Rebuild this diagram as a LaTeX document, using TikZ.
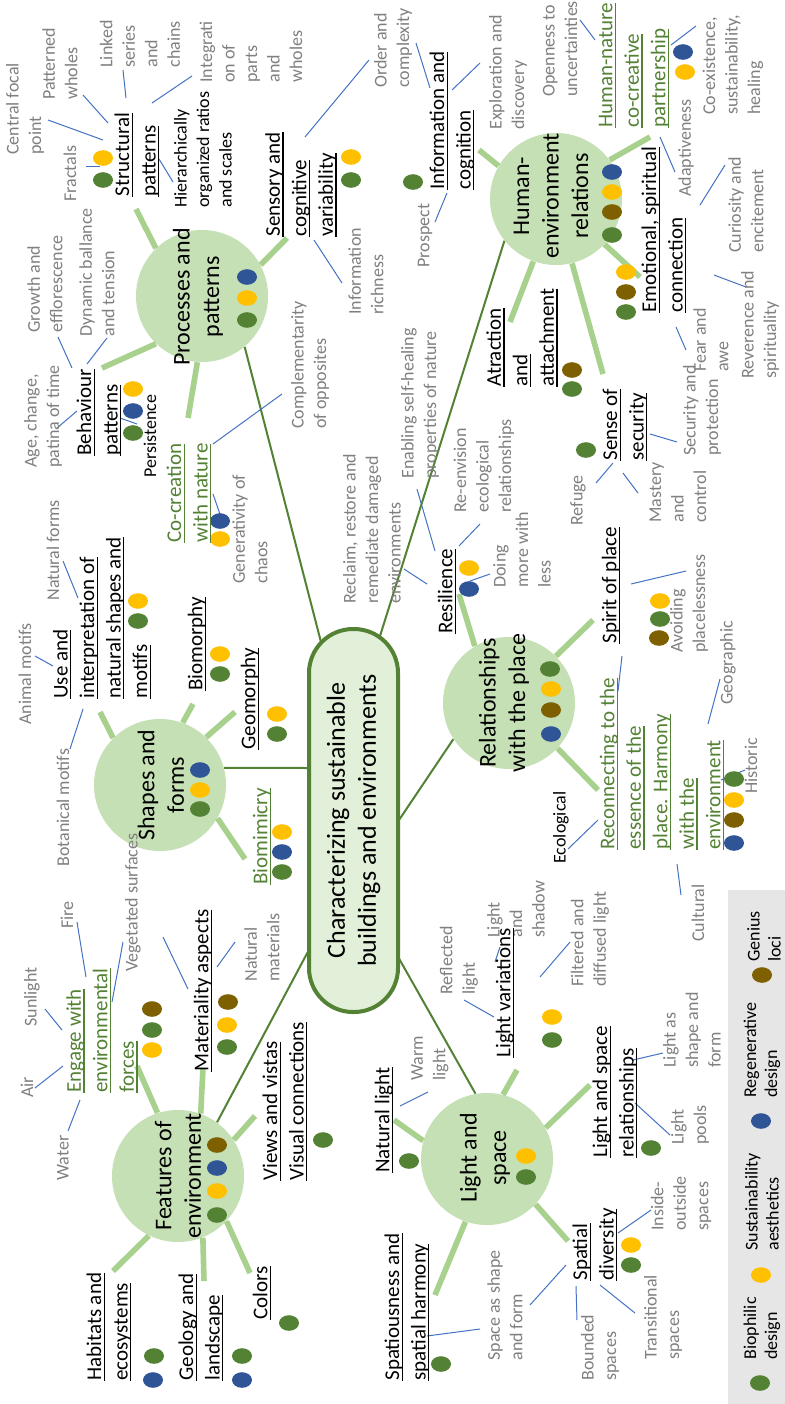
\documentclass[tikz,border=0pt]{standalone}
\usepackage{fontspec}
\setmainfont{Carlito}
\definecolor{dgreen}{HTML}{548235}
\definecolor{lgreen}{HTML}{A9D18E}
\definecolor{cfill}{HTML}{C5E0B4}
\definecolor{ctrfill}{HTML}{E2F0D9}
\definecolor{gtxt}{HTML}{808080}
\definecolor{lblue}{HTML}{4472C4}
\definecolor{Gd}{HTML}{548235}
\definecolor{Yd}{HTML}{FFC000}
\definecolor{Bd}{HTML}{2F5597}
\definecolor{Nd}{HTML}{7F6000}
\definecolor{legfill}{HTML}{E7E6E6}
\newcommand\uln[1]{\setbox0\hbox{#1}\rlap{\rule[-1.8pt]{\wd0}{0.6pt}}\box0}
\newcommand\mdot[3]{\fill[#1] (#2,#3) ellipse [x radius=5pt, y radius=3.9pt];}
\newcommand\bln[4]{\draw[bline] (#1,#2) -- (#3,#4);}
\tikzset{
 gl/.style={rotate=90, anchor=west, inner sep=0pt, align=left, text=gtxt, font=\fontsize{9}{11.25}\selectfont},
 sm/.style={gl, text=black},
 bl/.style={rotate=90, anchor=west, inner sep=0pt, align=left, text=black, font=\fontsize{10.5}{13.25}\selectfont},
 gnl/.style={bl, text=dgreen},
 circ/.style={circle, fill=cfill, minimum size=66pt, inner sep=0pt},
 ctx/.style={rotate=90, inner sep=0pt, align=center, font=\fontsize{12}{14.75}\selectfont},
 legt/.style={rotate=90, anchor=west, inner sep=0pt, align=left, font=\fontsize{9}{10.5}\selectfont},
 branch/.style={draw=lgreen, line width=2.8pt},
 trunk/.style={draw=dgreen, line width=1pt},
 bline/.style={draw=lblue, line width=0.5pt},
 ctrbox/.style={rotate=90, draw=dgreen, line width=2pt, fill=ctrfill, rounded corners=22pt, minimum width=191.5pt, minimum height=44.5pt, inner sep=0pt, align=center, font=\fontsize{13}{15.5}\selectfont}
}
\begin{document}
\begin{tikzpicture}[x=0.5pt,y=-0.5pt]
\useasboundingbox (0,0) rectangle (785,1404);
\fill[white] (0,0) rectangle (785,1404);
\fill[legfill] (728,890) rectangle (785,1404);
% circles
\node[circ] (pp) at (202,296) {};
\node[circ] (he) at (556,199) {};
\node[circ] (sf) at (160,785) {};
\node[circ] (fe) at (178,1176) {};
\node[circ] (ls) at (487,1159) {};
\node[circ] (rp) at (509,703) {};
% trunk ends on the central box
\coordinate (t-pp) at (322,646);
\coordinate (t-he) at (380,636);
\coordinate (t-sf) at (310,768);
\coordinate (t-fe) at (311,946);
\coordinate (t-ls) at (397,955);
\coordinate (t-rp) at (397,823);
\draw[trunk] (pp.-50.5) -- (t-pp);
\draw[trunk] (he.219) -- (t-he);
\draw[trunk] (sf.15) -- (t-sf);
\draw[trunk] (fe.54) -- (t-fe);
\draw[trunk] (ls.100) -- (t-ls);
\draw[trunk] (rp.213) -- (t-rp);
\node[ctrbox] (ctr) at (353.5,820.5) {Characterizing sustainable\\buildings and environments};
% branches
\draw[branch] (pp.134) -- (136,209) coordinate (e1);
\draw[branch] (pp.226) -- (102,368) coordinate (e2);
\draw[branch] (pp.266.6) -- (188,418) coordinate (e3);
\draw[branch] (pp.28.8) -- (287,238) coordinate (e4);
\draw[branch] (he.150.5) -- (479,150) coordinate (e5);
\draw[branch] (he.36.3) -- (650,137) coordinate (e6);
\draw[branch] (he.-43.2) -- (640,277) coordinate (e7);
\draw[branch] (he.-76) -- (603,374) coordinate (e8);
\draw[branch] (he.250.2) -- (510,322) coordinate (e9);
\draw[branch] (sf.135) -- (100,712) coordinate (e10);
\draw[branch] (sf.70.2) -- (193,704) coordinate (e11);
\draw[branch] (sf.46.8) -- (235,712) coordinate (e12);
\draw[branch] (sf.-30.8) -- (245,859) coordinate (e13);
\draw[branch] (fe.108.4) -- (137,1066) coordinate (e14);
\draw[branch] (fe.70.2) -- (203,1068) coordinate (e15);
\draw[branch] (fe.33) -- (255,1116) coordinate (e16);
\draw[branch] (fe.244.2) -- (113,1271) coordinate (e17);
\draw[branch] (fe.-68) -- (204,1281) coordinate (e18);
\draw[branch] (fe.-43.2) -- (250,1273) coordinate (e19);
\draw[branch] (ls.164) -- (394,1120) coordinate (e20);
\draw[branch] (ls.76.6) -- (517,1070) coordinate (e21);
\draw[branch] (ls.28.1) -- (590,1085) coordinate (e22);
\draw[branch] (ls.-43.8) -- (568,1241) coordinate (e23);
\draw[branch] (ls.-109) -- (435,1295) coordinate (e24);
\draw[branch] (rp.121.5) -- (459,594) coordinate (e25);
\draw[branch] (rp.45) -- (593,620) coordinate (e26);
\draw[branch] (rp.-43.8) -- (598,790) coordinate (e27);
% blue leader lines
\bln{48}{120}{103}{140}
\bln{83}{95}{108}{123}
\bln{123}{70}{126}{98}
\bln{192}{76}{152}{103}
\bln{86}{166}{100}{166}
\bln{159}{159}{173}{182}
\bln{58}{337}{72}{368}
\bln{107}{338}{87}{364}
\bln{57}{428}{77}{411}
\bln{120}{418}{137}{424}
\bln{213}{444}{282}{394}
\bln{213}{494}{222}{520}
\bln{63}{561}{78}{598}
\bln{35}{656}{53}{666}
\bln{70}{749}{83}{709}
\bln{77}{922}{86}{977}
\bln{45}{1009}{62}{1030}
\bln{123}{942}{112}{1002}
\bln{163}{937}{188}{989}
\bln{217}{967}{235}{942}
\bln{35}{1088}{63}{1066}
\bln{68}{1131}{80}{1100}
\bln{400}{1106}{428}{1092}
\bln{427}{1336}{480}{1329}
\bln{530}{1305}{566}{1265}
\bln{576}{1286}{577}{1320}
\bln{600}{1285}{635}{1313}
\bln{618}{1233}{651}{1210}
\bln{635}{1103}{670}{1135}
\bln{633}{1060}{663}{1053}
\bln{464}{1000}{494}{1017}
\bln{500}{947}{495}{962}
\bln{540}{977}{570}{942}
\bln{568}{849}{598}{820}
\bln{721}{780}{745}{770}
\bln{677}{864}{681}{895}
\bln{720}{679}{708}{724}
\bln{622}{656}{618}{691}
\bln{631}{584}{686}{571}
\bln{596}{483}{613}{463}
\bln{623}{473}{638}{493}
\bln{650}{434}{677}{442}
\bln{676}{327}{686}{350}
\bln{714}{275}{746}{287}
\bln{700}{205}{725}{165}
\bln{660}{137}{675}{172}
\bln{671}{45}{696}{26}
\bln{580}{20}{595}{40}
\bln{452}{90}{480}{63}
\bln{447}{193}{435}{222}
\bln{416}{43}{430}{88}
\bln{305}{137}{369}{60}
\bln{314}{240}{342}{283}
\bln{404}{569}{427}{584}
\bln{417}{489}{435}{551}
\bln{480}{524}{459}{546}
\bln{470}{581}{490}{574}
% circle texts
\node[ctx] (c1) at (198,297) {Processes and\\patterns};
\node[ctx] (c2) at (551,196) {Human-\\environment\\relations};
\node[ctx] (c3) at (161,785) {Shapes and\\forms};
\node[ctx] (c4) at (178,1176) {Features of\\environment};
\node[ctx] (c5) at (485,1158) {Light and\\space};
\node[ctx] (c6) at (504,703) {Relationships\\with the place};
% dots
\mdot{Yd}{103}{158} \mdot{Gd}{103}{180}
\mdot{Bd}{247}{277} \mdot{Yd}{247}{298} \mdot{Gd}{247}{320}
\mdot{Yd}{351}{157} \mdot{Gd}{351}{180}
\mdot{Gd}{413}{182}
\mdot{Yd}{133}{389} \mdot{Bd}{133}{411} \mdot{Gd}{133}{433}
\mdot{Bd}{220}{521} \mdot{Yd}{220}{539}
\mdot{Yd}{138}{601} \mdot{Gd}{138}{621}
\mdot{Yd}{220}{654} \mdot{Gd}{220}{674}
\mdot{Yd}{277}{714} \mdot{Gd}{277}{734}
\mdot{Bd}{200}{770} \mdot{Yd}{200}{790} \mdot{Gd}{200}{809}
\mdot{Yd}{282}{832} \mdot{Bd}{282}{852} \mdot{Gd}{282}{872}
\mdot{Nd}{228}{1002} \mdot{Yd}{227}{1025} \mdot{Gd}{227}{1047}
\mdot{Nd}{152}{1009} \mdot{Gd}{152}{1030} \mdot{Yd}{152}{1050}
\mdot{Nd}{217}{1145} \mdot{Bd}{217}{1168} \mdot{Yd}{217}{1191} \mdot{Gd}{217}{1215}
\mdot{Gd}{323}{1140}
\mdot{Gd}{154}{1356} \mdot{Bd}{153}{1380}
\mdot{Gd}{242}{1356} \mdot{Bd}{242}{1380}
\mdot{Gd}{289}{1323}
\mdot{Gd}{409}{1161}
\mdot{Gd}{441}{1364}
\mdot{Yd}{526}{1156} \mdot{Gd}{526}{1177}
\mdot{Yd}{631}{1245} \mdot{Gd}{631}{1265}
\mdot{Gd}{651}{1148}
\mdot{Yd}{552}{1017} \mdot{Gd}{552}{1040}
\mdot{Gd}{550}{669} \mdot{Yd}{551}{689} \mdot{Nd}{551}{710} \mdot{Bd}{551}{734}
\mdot{Gd}{734}{779} \mdot{Yd}{734}{800} \mdot{Nd}{734}{820} \mdot{Bd}{734}{843}
\mdot{Yd}{660}{601} \mdot{Gd}{660}{619} \mdot{Nd}{659}{638}
\mdot{Yd}{469}{568} \mdot{Bd}{469}{589}
\mdot{Gd}{586}{450}
\mdot{Nd}{572}{370} \mdot{Gd}{572}{389}
\mdot{Yd}{626}{272} \mdot{Nd}{626}{292} \mdot{Gd}{626}{312}
\mdot{Bd}{612}{172} \mdot{Yd}{612}{192} \mdot{Nd}{612}{212} \mdot{Gd}{612}{235}
\mdot{Bd}{683}{52} \mdot{Yd}{685}{72}
% legend
\mdot{Gd}{760}{1383} \node[legt] (lg1) at (762,1360) {Biophilic\\design};
\mdot{Yd}{761}{1275} \node[legt] (lg2) at (762,1251) {Sustainability\\aesthetics};
\mdot{Bd}{761}{1121} \node[legt] (lg3) at (762,1098) {Regenerative\\design};
\mdot{Nd}{762}{975} \node[legt] (lg4) at (764,962) {Genius\\loci};
% grey texts
\node[gl] (g1) at (25,155) {Central focal\\point};
\node[gl] (g2) at (60,100) {Patterned\\wholes};
\node[gl] (g3) at (140,68) {Linked\\series\\and\\chains};
\node[gl] (g4) at (251,83) {Integrati\\on of\\parts\\and\\wholes};
\node[gl] (g5) at (70,202) {Fractals};
\node[gl] (g6) at (45,333) {Growth and\\efflorescence};
\node[gl] (g7) at (97,337) {Dynamic ballance\\and tension};
\node[gl] (g8) at (43,468) {Age, change,\\patina of time};
\node[gl] (g9) at (310,429) {Complementarity\\of opposites};
\node[gl] (g10) at (250,584) {Generativity of\\chaos};
\node[gl] (g11) at (53,601) {Natural forms};
\node[gl] (g12) at (25,725) {Animal motifs};
\node[gl] (g13) at (63,867) {Botanical motifs};
\node[gl] (g14) at (67,929) {Fire};
\node[gl] (g15) at (32,1027) {Sunlight};
\node[gl] (g16) at (133,972) {Vegetated surfaces};
\node[gl] (g17) at (262,982) {Natural\\materials};
\node[gl] (g18) at (27,1098) {Air};
\node[gl] (g19) at (63,1181) {Water};
\node[gl] (g20) at (366,315) {Information\\richness};
\node[gl] (g21) at (393,88) {Order and\\complexity};
\node[gl] (g22) at (425,268) {Prospect};
\node[gl] (g23) at (508,130) {Exploration and\\discovery};
\node[gl] (g24) at (560,97) {Openness to\\uncertainties};
\node[gl] (g25) at (733,115) {Co-existence,\\sustainability,\\healing};
\node[gl] (g26) at (686,197) {Adaptiveness};
\node[gl] (g27) at (746,253) {Curiosity and\\encitement};
\node[gl] (g28) at (711,372) {Fear and\\awe};
\node[gl] (g29) at (760,379) {Reverence and\\spirituality};
\node[gl] (g30) at (702,456) {Security and\\protection};
\node[gl] (g31) at (578,526) {Refuge};
\node[gl] (g32) at (678,523) {Mastery\\and\\control};
\node[gl] (g33) at (689,653) {Avoiding\\placelessness};
\node[gl] (g34) at (728,705) {Geographic};
\node[gl] (g35) at (751,794) {Historic};
\node[gl] (g36) at (698,942) {Cultural};
\node[gl] (g37) at (372,604) {Reclaim, restore and\\remediate damaged\\environments};
\node[gl] (g38) at (420,479) {Enabling self-healing\\properties of nature};
\node[gl] (g39) at (484,513) {Re-envision\\ecological\\relationships};
\node[gl] (g40) at (522,588) {Doing\\more with\\less};
\node[gl] (g41) at (459,995) {Reflected\\light};
\node[gl] (g42) at (516,938) {Light\\and\\shadow};
\node[gl] (g43) at (590,987) {Filtered and\\diffused light};
\node[gl] (g44) at (430,1081) {Warm\\light};
\node[gl] (g45) at (692,1068) {Light as\\shape and\\form};
\node[gl] (g46) at (690,1145) {Light\\pools};
\node[gl] (g47) at (681,1231) {Inside-\\outside\\spaces};
\node[gl] (g48) at (663,1360) {Transitional\\spaces};
\node[gl] (g49) at (600,1381) {Bounded\\spaces};
\node[gl] (g50) at (505,1361) {Space as shape\\and form};
% small black texts
\node[sm] (s1) at (203,208) {Hierarchically\\organized ratios\\and scales};
\node[sm] (s2) at (150,478) {Persistence};
\node[sm] (s3) at (561,864) {Ecological};
% black underlined labels
\node[bl] (k1) at (137,197) {\uln{Structural}\\\uln{patterns}};
\node[bl] (k2) at (301,237) {\uln{Sensory and}\\\uln{cognitive}\\\uln{variability}};
\node[bl] (k3) at (452,190) {\uln{Information and}\\\uln{cognition}};
\node[bl] (k4) at (99,456) {\uln{Behaviour}\\\uln{patterns}};
\node[bl] (k5) at (102,699) {\uln{Use and}\\\uln{interpretation of}\\\uln{natural shapes and}\\\uln{motifs}};
\node[bl] (k6) at (197,691) {\uln{Biomorphy}};
\node[bl] (k7) at (250,750) {\uln{Geomorphy}};
\node[bl] (k8) at (203,1072) {\uln{Materiality aspects}};
\node[bl] (k9) at (109,1381) {\uln{Habitats and}\\\uln{ecosystems}};
\node[bl] (k10) at (201,1381) {\uln{Geology and}\\\uln{landscape}};
\node[bl] (k11) at (262,1320) {\uln{Colors}};
\node[bl] (k12) at (285,1181) {\uln{Views and vistas}\\\uln{Visual connections}};
\node[bl] (k13) at (384,1173) {\uln{Natural light}};
\node[bl] (k14) at (407,1381) {\uln{Spatiousness and}\\\uln{spatial harmony}};
\node[bl] (k15) at (595,1281) {\uln{Spatial}\\\uln{diversity}};
\node[bl] (k16) at (615,1158) {\uln{Light and space}\\\uln{relationships}};
\node[bl] (k17) at (505,1058) {\uln{Light variations}};
\node[bl] (k18) at (447,634) {\uln{Resilience}};
\node[bl] (k19) at (611,644) {\uln{Spirit of place}};
\node[bl] (k20) at (625,461) {\uln{Sense of}\\\uln{security}};
\node[bl] (k21) at (522,387) {\uln{Atraction}\\\uln{and}\\\uln{attachment}};
\node[bl] (k22) at (664,313) {\uln{Emotional, spiritual}\\\uln{connection}};
% green underlined labels
\node[gnl] (n1) at (189,543) {\uln{Co-creation}\\\uln{with nature}};
\node[gnl] (n2) at (262,885) {\uln{Biomimicry}};
\node[gnl] (n3) at (102,1093) {\uln{Engage with}\\\uln{environmental}\\\uln{forces}};
\node[gnl] (n4) at (634,128) {\uln{Human-nature}\\\uln{co-creative}\\\uln{partnership}};
\node[gnl] (n5) at (662,850) {\uln{Reconnecting to the}\\\uln{essence of the}\\\uln{place. Harmony}\\\uln{with the}\\\uln{environment}};
\end{tikzpicture}
\end{document}
